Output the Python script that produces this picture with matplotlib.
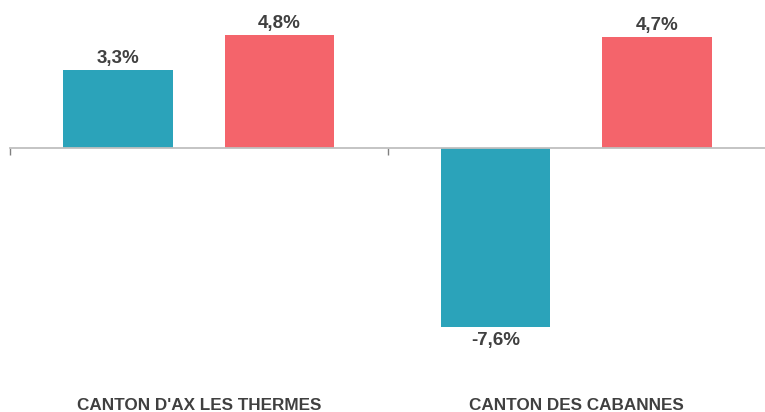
import numpy as np
import matplotlib.pyplot as plt
import matplotlib.transforms as mtransforms

plt.rcParams['font.family'] = ['Liberation Sans', 'DejaVu Sans']

# Data
categories = ["CANTON D'AX LES THERMES", "CANTON DES CABANNES"]
series_a = [3.3, -7.6]
series_b = [4.8, 4.7]
colors = ['#2BA3BA', '#F4646B']
text_color = '#404040'

fig = plt.figure(figsize=(7.65, 4.12), dpi=100)
W, H = 765, 412
# axes: x from 10 to 765 px, y from 20 to 360 px (top-origin)
ax = fig.add_axes([10 / W, 1 - 360 / H, 755 / W, 340 / H])

px_per_unit = 23.6
zero_px = 148
ax.set_ylim(-(360 - zero_px) / px_per_unit, (zero_px - 20) / px_per_unit)
ax.set_xlim(-0.5, len(categories) - 0.5)

x = np.arange(len(categories))
width = 0.289
offset = 0.214
bars_a = ax.bar(x - offset, series_a, width, color=colors[0])
bars_b = ax.bar(x + offset, series_b, width, color=colors[1])

def fmt(v):
    return f'{v:.1f}%'.replace('.', ',')

for bars in (bars_a, bars_b):
    for b in bars:
        v = b.get_height()
        xc = b.get_x() + b.get_width() / 2
        if v >= 0:
            ax.annotate(fmt(v), (xc, v), xytext=(0, 2), textcoords='offset points',
                        ha='center', va='bottom', fontsize=13.5, fontweight='bold',
                        color=text_color)
        else:
            ax.annotate(fmt(v), (xc, v), xytext=(0, -3), textcoords='offset points',
                        ha='center', va='top', fontsize=13.5, fontweight='bold',
                        color=text_color)

# Category labels at the bottom
trans = mtransforms.blended_transform_factory(ax.transData, fig.transFigure)
for xi, cat in zip(x, categories):
    ax.text(xi, 1 - 405 / H, cat, transform=trans, ha='center', va='center',
            fontsize=12.3, fontweight='bold', color=text_color)

# Axis line at zero
for s in ['top', 'right', 'left']:
    ax.spines[s].set_visible(False)
ax.spines['bottom'].set_position(('data', 0))
ax.spines['bottom'].set_color('#BFBFBF')
ax.spines['bottom'].set_linewidth(1.3)
ax.set_xticks([-0.5, 0.5])
ax.set_xticklabels([])
ax.tick_params(axis='x', length=5, width=1, color='#808080', direction='out')
ax.set_yticks([])

plt.savefig('out.png', dpi=100)
